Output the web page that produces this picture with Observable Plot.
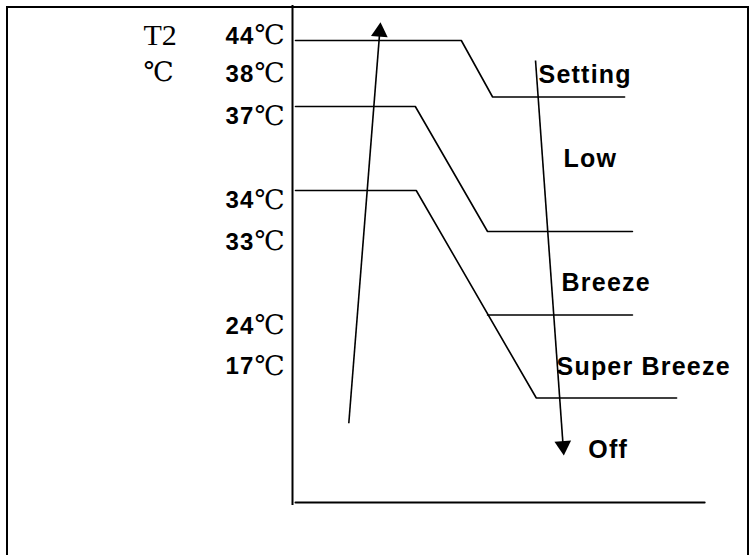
<!DOCTYPE html>
<html><head><meta charset="utf-8">
<script src="https://cdn.jsdelivr.net/npm/d3@7"></script>
<script src="https://cdn.jsdelivr.net/npm/@observablehq/plot@0.6"></script>
<style>
html,body{margin:0;padding:0;background:#fff;overflow:hidden;width:752px;height:555px;}
#wrap{position:relative;width:752px;height:555px;}
#frame{position:absolute;left:6px;top:6px;width:738.5px;height:600px;border:2.5px solid #000;pointer-events:none;}
</style></head><body><div id="wrap"><div id="chart"></div><div id="frame"></div></div>
<script>
// ---- data (abstract time units on x, abstract level units on y) ----
const line44 = [[0.65,92.4],[36.7,92.4],[43.5,81.1],[72.2,81.1]];
const line37 = [[0.65,79.2],[26.7,79.2],[42.4,54.2],[73.9,54.2]];
const line34 = [[0.65,62.4],[26.9,62.4],[53.0,20.9],[83.5,20.9]];
const lineBreeze = [[42.4,37.5],[73.9,37.5]];
const lineBase = [[0.65,0],[89.6,0]];
const axisSpan = [-0.6, 99.4];

const tempLabels = ["44","38","37","34","33","24","17"];
const tempLevels = [93.3, 85.7, 77.2, 60.4, 52.1, 35.3, 27.2];
const unitSymbol = "℃";
const axisTitle = "T2";
const axisTitleLevel = 93.4;
const axisUnitLevel = 85.9;

const modeLabels = ["Setting","Low","Breeze","Super Breeze","Off"];
const modeX = [53.5, 58.9, 58.5, 57.4, 64.3];
const modeLevels = [85.6, 68.7, 43.9, 27.2, 10.5];

const riseArrow = {x1: 12.24, y1: 15.86, x2: 19.13, y2: 96.06};
const fallArrow = {x1: 52.83, y1: 88.4, x2: 58.98, y2: 9.4};

// ---- layout ----
const W = 752, H = 555;
const mL = 292, mR = 0, mT = 2, mB = 53;
const xDomain = [0, 100], yDomain = [0, 100];
const xs = Plot.scale({x: {domain: xDomain, range: [mL, W - mR]}});
const ys = Plot.scale({y: {domain: yDomain, range: [H - mB, mT]}});

const headR = 6.2;
function headOf(a) {
  const px1 = xs.apply(a.x1), py1 = ys.apply(a.y1), px2 = xs.apply(a.x2), py2 = ys.apply(a.y2);
  const dx = px2 - px1, dy = py2 - py1, len = Math.hypot(dx, dy);
  const ux = dx / len, uy = dy / len;
  const y0 = Math.sqrt(Math.PI * headR * headR / (3 * Math.sqrt(3)));
  const cx = px2 - ux * 2 * y0, cy = py2 - uy * 2 * y0;
  return {x: xs.invert(cx), y: ys.invert(cy), x1: a.x1, y1: a.y1, rotate: Math.atan2(ux, -uy) * 180 / Math.PI};
}
const heads = [headOf(riseArrow), headOf(fallArrow)];

const lines = [];
[["44", line44], ["37", line37], ["34", line34], ["breeze", lineBreeze], ["base", lineBase]].forEach(([k, pts]) =>
  pts.forEach(([x, y]) => lines.push({k, x, y})));

const tempData = tempLabels.map((t, i) => ({t, y: tempLevels[i]}));
const modeData = modeLabels.map((t, i) => ({t, x: modeX[i], y: modeLevels[i]}));

const sans = "Liberation Sans, Arial, sans-serif";
const serif = "DejaVu Serif, Liberation Serif, serif";

const plot = Plot.plot({
  width: W, height: H,
  marginLeft: mL, marginRight: mR, marginTop: mT, marginBottom: mB,
  x: {domain: xDomain, axis: null},
  y: {domain: yDomain, axis: null},
  style: {background: "transparent", overflow: "visible"},
  marks: [
    Plot.ruleX([0], {y1: axisSpan[0], y2: axisSpan[1], stroke: "#000", strokeWidth: 2}),
    Plot.line(lines.filter(d => d.k !== "base"), {x: "x", y: "y", z: "k", stroke: "#000", strokeWidth: 1.6, strokeLinejoin: "miter"}),
    Plot.line(lines.filter(d => d.k === "base"), {x: "x", y: "y", stroke: "#000", strokeWidth: 2}),
    Plot.link(heads, {x1: "x1", y1: "y1", x2: "x", y2: "y", stroke: "#000", strokeWidth: 1.6}),
    Plot.dot(heads, {x: "x", y: "y", r: headR, symbol: "triangle", fill: "#000", stroke: "none", rotate: "rotate"}),
    Plot.text(tempData, {x: 0, y: "y", text: "t", dx: -38, textAnchor: "end", fontWeight: "bold", fontFamily: sans, fontSize: 24, fill: "#000"}),
    Plot.text(tempData, {x: 0, y: "y", text: () => unitSymbol, dx: -38, dy: -0.5, textAnchor: "start", fontFamily: serif, fontSize: 27, fill: "#000"}),
    Plot.text([axisTitle], {x: 0, y: axisTitleLevel, text: d => d, dx: -149, textAnchor: "start", fontFamily: "Liberation Serif, serif", fontSize: 30, fill: "#000"}),
    Plot.text([unitSymbol], {x: 0, y: axisUnitLevel, text: d => d, dx: -149, dy: -0.5, textAnchor: "start", fontFamily: serif, fontSize: 27, fill: "#000"}),
    Plot.text(modeData, {x: "x", y: "y", text: "t", textAnchor: "start", fontWeight: "bold", fontFamily: sans, fontSize: 25, fill: "#000"})
  ]
});
d3.select(plot).selectAll('g[font-weight="bold"]').attr("letter-spacing", "1.2");
document.getElementById("chart").appendChild(plot);
</script></body></html>
